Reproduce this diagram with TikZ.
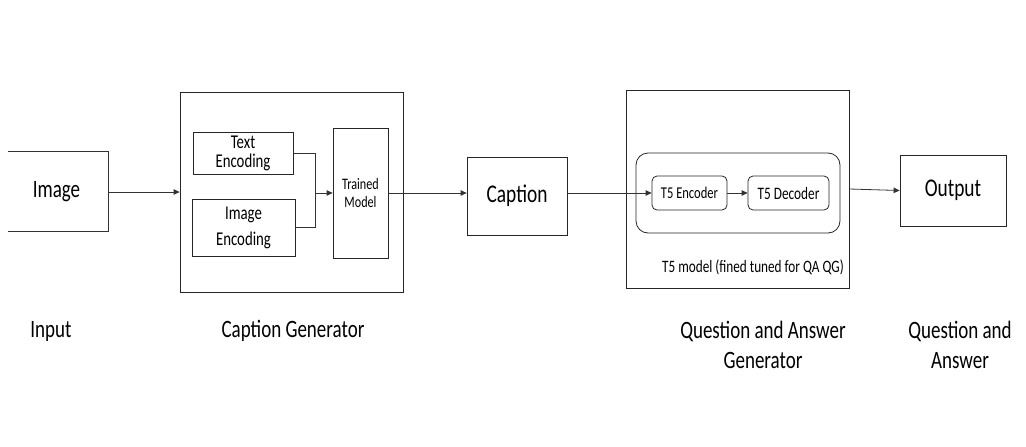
\documentclass[tikz,border=0pt]{standalone}
\usepackage{fontspec}
\setmainfont{Carlito}[FakeStretch=0.76]
\usetikzlibrary{arrows.meta,positioning,calc}
\tikzset{
  box/.style={draw=black!85, line width=0.8pt, inner sep=0pt, align=center},
  rbox/.style={box, rounded corners=5pt},
  lbl/.style={inner sep=0pt, align=center},
  conn/.style={draw=black!80, line width=0.8pt},
  arr/.style={conn, -{Triangle[length=6pt,width=5.5pt]}},
}
\newcommand{\fs}[2]{\fontsize{#1}{#2}\selectfont}
\begin{document}
\begin{tikzpicture}[x=1pt,y=-1pt]
\useasboundingbox (0,0) rectangle (1026,447);
% Input image box (left side cut off)
\node[inner sep=0pt, minimum width=100pt, minimum height=79pt] (img) at (58,191.5) {};
\node[lbl, font=\fs{25}{30}] (imgt) at (56.5,192) {Image};
\draw[conn] (img.north west) -- (img.north east) -- (img.south east) -- (img.south west);
% Caption generator
\node[box, minimum width=223pt, minimum height=200pt] (capgen) at (291.5,192) {};
\node[box, minimum width=100pt, minimum height=42pt, font=\fs{19.5}{19}] (te) at (243,153) {Text\\Encoding};
\node[box, minimum width=103pt, minimum height=57pt, font=\fs{19.5}{26}] (ie) at (243.5,227.5) {Image\\Encoding};
\node[box, minimum width=55pt, minimum height=130pt, font=\fs{16}{18}] (tm) at (360.5,193) {Trained\\Model};
\coordinate (jn) at (315,193);
\draw[conn] (te.east) -| (jn);
\draw[conn] (ie.east) -| (jn);
\draw[arr] (jn) -- (jn -| tm.west);
% Caption
\node[box, minimum width=100pt, minimum height=78pt, font=\fs{25.5}{30}] (cap) at (517,196) {Caption};
% QA generator
\node[box, minimum width=223pt, minimum height=198pt] (qa) at (737.5,189) {};
\node[box, rounded corners=12pt, minimum width=204pt, minimum height=80pt] (t5) at (738,193) {};
\node[rbox, minimum width=75pt, minimum height=34pt, font=\fs{16.5}{20}] (enc) at (689.5,193) {T5 Encoder};
\node[rbox, minimum width=81pt, minimum height=34pt, font=\fs{17.5}{20}] (dec) at (788.5,193) {T5 Decoder};
\node[lbl, font=\fs{17.4}{20}] (t5l) at (753,267) {T5 model (fined tuned for QA QG)};
% Output
\node[box, minimum width=106pt, minimum height=71pt, font=\fs{25.5}{30}] (out) at (953,190.5) {Output};
% connectors
\draw[arr] (img.east |- imgt) -- (imgt -| capgen.west);
\draw[arr] (tm.east) -- (tm.east -| cap.west);
\draw[arr] (enc.west -| cap.east) -- (enc.west);
\draw[arr] (enc.east) -- (dec.west);
\draw[arr] (qa.east) -- (out.west);
% bottom labels
\node[lbl, font=\fs{25}{30}] (l1) at (51,331) {Input};
\node[lbl, font=\fs{25}{30}] (l2) at (293,331) {Caption Generator};
\node[lbl, font=\fs{25}{30}] (l3) at (763,345) {Question and Answer\\Generator};
\node[lbl, font=\fs{25}{30}] (l4) at (960,345) {Question and\\Answer};
\end{tikzpicture}
\end{document}
